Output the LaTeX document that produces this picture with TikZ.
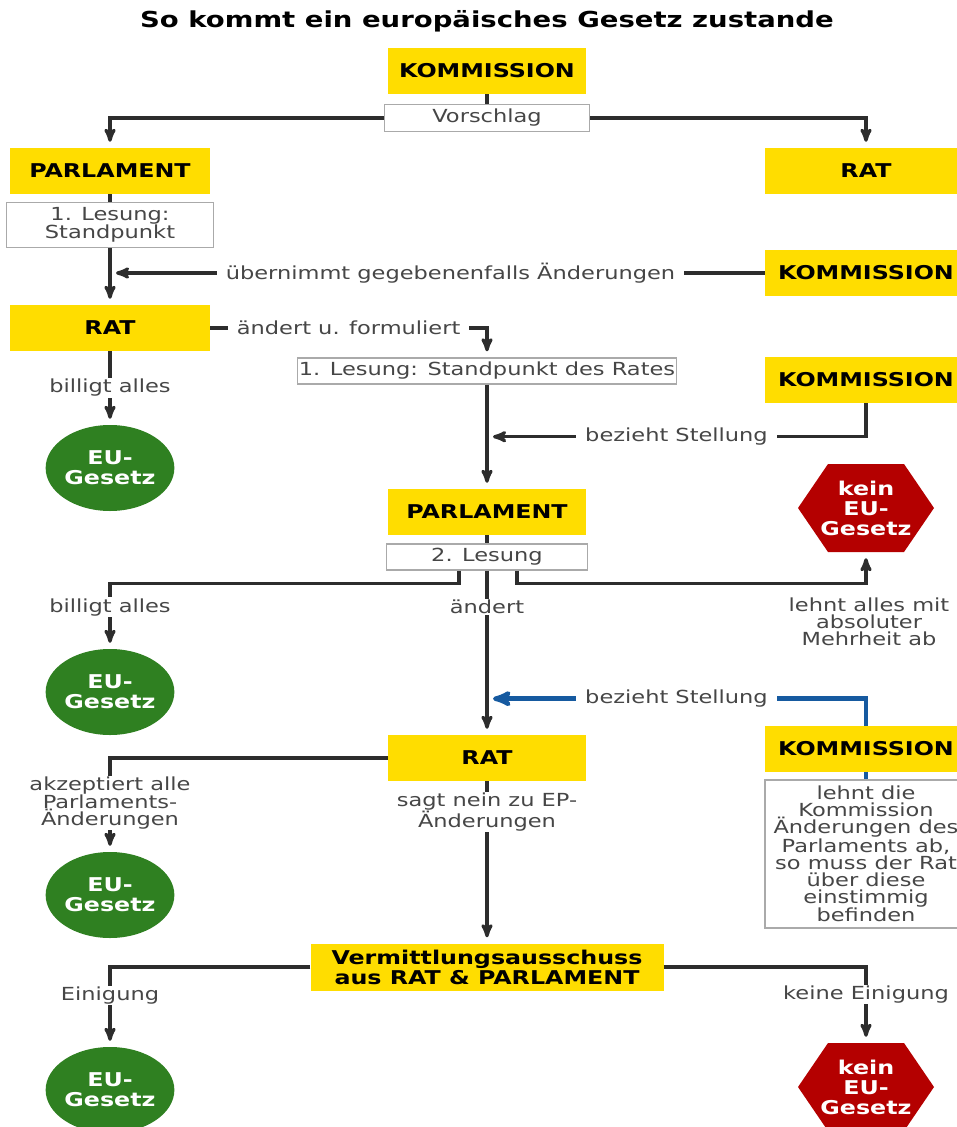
\documentclass[tikz,border=0pt]{standalone}
\usepackage{fontspec}
\setmainfont{DejaVu Sans}[FakeStretch=1.25]
\usepackage{tikz}
\usetikzlibrary{positioning,arrows,shapes.geometric,calc}
\usepackage{xcolor}
\definecolor{euyellow}{RGB}{255,221,0}
\definecolor{eugreen}{RGB}{47,128,33}
\definecolor{keinred}{RGB}{180,0,0}
\definecolor{linkblue}{RGB}{22,90,160}
\definecolor{linegrey}{RGB}{45,45,45}
\definecolor{labelgrey}{RGB}{70,70,70}
\definecolor{boxgrey}{RGB}{170,170,170}
\newcommand{\lblfont}{\fontsize{18}{17}\selectfont}
\newcommand{\boxfont}{\bfseries\fontsize{19}{20}\selectfont}

\begin{document}
\begin{tikzpicture}[x=1pt,y=-1pt,>=stealth',
        link/.style={draw=linegrey,line width=3.2pt},
        arr/.style={link,->,shorten >=6pt},
        blue link/.style={draw=linkblue,line width=4.5pt},
        main node/.style={rectangle,fill=euyellow,minimum width=198pt,minimum height=46pt,inner sep=0pt,font=\boxfont,align=center},
        white node/.style={rectangle,draw=boxgrey,line width=1.3pt,fill=white,inner sep=0pt,font=\lblfont,text=labelgrey,align=center},
        eu node/.style={ellipse,fill=eugreen,minimum width=123pt,minimum height=86pt,inner sep=0pt,text=white,font=\boxfont,align=center},
        kein node/.style={rectangle,fill=white,minimum width=136pt,minimum height=88pt,inner sep=0pt,text=white,font=\boxfont,align=center,
            path picture={\fill[keinred] (path picture bounding box.west) -- ([xshift=30pt]path picture bounding box.north west)
                -- ([xshift=-30pt]path picture bounding box.north east) -- (path picture bounding box.east)
                -- ([xshift=-30pt]path picture bounding box.south east) -- ([xshift=30pt]path picture bounding box.south west) -- cycle;}},
        lbl/.style={fill=white,text=labelgrey,font=\lblfont,inner xsep=9pt,inner ysep=1pt,align=center}]

    \useasboundingbox (0,0) rectangle (957,1127);

    \node[font=\bfseries\fontsize{22}{24}\selectfont] (title) at (487,21) {So kommt ein europäisches Gesetz zustande};

    \node[main node] (kom1) at (487,71) {KOMMISSION};
    \node[white node,minimum width=205pt,minimum height=27pt] (vorschlag) at (487,118) {Vorschlag};
    \node[main node,minimum width=200pt] (parl1) at (110,171) {PARLAMENT};
    \node[main node,minimum width=202pt] (rat1) at (866,171) {RAT};
    \node[white node,minimum width=207pt,minimum height=45pt] (lesung1) at (110,225) {1. Lesung:\\Standpunkt};
    \node[main node,minimum width=202pt] (kom2) at (866,273) {KOMMISSION};
    \node[main node,minimum width=200pt] (rat2) at (110,328) {RAT};
    \node[white node,minimum width=379pt,minimum height=26pt] (stdrat) at (487,371) {1. Lesung: Standpunkt des Rates};
    \node[main node,minimum width=202pt] (kom3) at (866,380) {KOMMISSION};
    \node[eu node] (eu1) at (110,468) {EU-\\Gesetz};
    \node[kein node] (kein1) at (866,508) {kein\\EU-\\Gesetz};
    \node[main node] (parl2) at (487,512) {PARLAMENT};
    \node[white node,minimum width=201pt,minimum height=26pt] (lesung2) at (487,557) {2. Lesung};
    \node[align=center,text=labelgrey,font=\lblfont] (lehnt) at (869,622) {lehnt alles mit\\absoluter\\Mehrheit ab};
    \node[eu node] (eu2) at (110,692) {EU-\\Gesetz};
    \node[main node,minimum width=202pt] (kom4) at (866,749) {KOMMISSION};
    \node[main node] (rat3) at (487,758) {RAT};
    \node[white node,minimum width=202pt,minimum height=148pt] (erkl) at (866,854)
        {lehnt die\\Kommission\\Änderungen des\\Parlaments ab,\\so muss der Rat\\über diese\\einstimmig\\befinden};
    \node[eu node] (eu3) at (110,895) {EU-\\Gesetz};
    \node[main node,minimum width=353pt,minimum height=47pt] (verm) at (487,967) {Vermittlungsausschuss\\aus RAT \& PARLAMENT};
    \node[eu node] (eu4) at (110,1090) {EU-\\Gesetz};
    \node[kein node] (kein2) at (866,1087) {kein\\EU-\\Gesetz};

    \path[link]
    (kom1) edge (vorschlag)
    (parl1) edge (lesung1)
    (parl2) edge (lesung2);
    \draw[blue link] (kom4) -- (erkl);

    \draw[arr] (vorschlag) -| (parl1);
    \draw[arr] (vorschlag) -| (rat1);
    \draw[arr] (lesung1) -- (rat2);
    \draw[arr] (kom2) -- node[lbl,pos=0.48] {übernimmt gegebenenfalls Änderungen} (lesung1.south |- kom2);
    \draw[arr] (rat2) -| node[lbl,pos=0.25] {ändert u. formuliert} (stdrat);
    \draw[arr] (rat2) -- node[lbl] {billigt alles} (eu1);
    \draw[arr] (stdrat) -- (parl2);
    \draw[arr] (kom3) |- node[lbl,pos=0.75] {bezieht Stellung} ($(stdrat.south)!0.5!(parl2.north)$);

    \draw[arr] ([xshift=-28pt]lesung2.south) -- ++(0,13) -| node[lbl,pos=0.68] {billigt alles} (eu2);
    \draw[arr] (lesung2) -- node[lbl,pos=0.22] {ändert} (rat3);
    \draw[arr] ([xshift=30pt]lesung2.south) -- ++(0,13) -| (kein1);
    \draw[arr,blue link] (kom4) |- node[lbl,pos=0.75] {bezieht Stellung} ($(lesung2.south)!0.78!(rat3.north)$);

    \draw[arr] (rat3) -| node[lbl,pos=0.74] {akzeptiert alle\\Parlaments-\\Änderungen} (eu3);
    \draw[arr] (rat3) -- node[lbl,pos=0.19] {sagt nein zu EP-\\Änderungen} (verm);
    \draw[arr] (verm) -| node[lbl,pos=0.68] {Einigung} (eu4);
    \draw[arr] (verm) -| node[lbl,pos=0.68] {keine Einigung} (kein2);

\end{tikzpicture}
\end{document}
